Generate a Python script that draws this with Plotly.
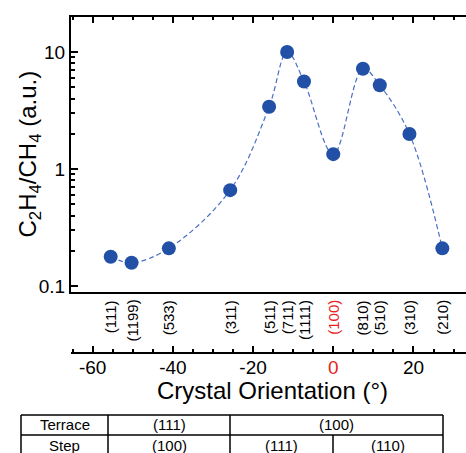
import plotly.graph_objects as go

# Orientation angle from (100) in degrees, and product ratio
angle = [-55.5, -50.3, -41.0, -25.7, -16.0, -11.5, -7.3, 0.0, 7.4, 11.6, 19.0, 27.2]
ratio = [0.178, 0.158, 0.21, 0.66, 3.4, 10.0, 5.6, 1.34, 7.2, 5.2, 1.99, 0.21]
planes = ["(111)", "(1199)", "(533)", "(311)", "(511)", "(711)", "(1111)",
          "(100)", "(810)", "(510)", "(310)", "(210)"]
highlight = "(100)"

xticks = [-60, -40, -20, 0, 20]

# Terrace/step table: rows of (text, left px, right px)
table_rows = [
    [("Terrace", 21, 108), ("(111)", 108, 230), ("(100)", 230, 443)],
    [("Step", 21, 108), ("(100)", 108, 230), ("(111)", 230, 333), ("(110)", 333, 443)],
]

W, H = 466, 453
ML, MT, MB, MR = 71, 17, 100, 0
PW = W - ML - MR
PH = H - MT - MB
XR = [-65.4, 33.1]
FONT = "Arial, Liberation Sans, sans-serif"
RED = "#e8231f"


def fx(p):
    return (p - ML) / PW


def fy(p):
    return (H - MB - p) / PH


fig = go.Figure()

fig.add_trace(go.Scatter(
    x=angle, y=ratio, mode="lines",
    line=dict(shape="spline", smoothing=1.0, dash="5px,3px", color="#4a6fc4", width=1.2),
    hoverinfo="skip", showlegend=False,
))
fig.add_trace(go.Scatter(
    x=angle, y=ratio, mode="markers",
    marker=dict(size=14, color="#2250a6"),
    showlegend=False,
))
# placeholders so the extra x axes are drawn
for ax in ("x2", "x3"):
    fig.add_trace(go.Scatter(x=[angle[0]], y=[ratio[0]], xaxis=ax, yaxis="y",
                             mode="markers", marker=dict(opacity=0),
                             hoverinfo="skip", showlegend=False))

ydom0 = fy(292)

minor_log = [k * 10 ** e for e in (-1, 0, 1) for k in range(2, 10) if k * 10 ** e < 19.9]
minor_lin = [v for v in range(-65, 35, 5)]

axis_common = dict(range=XR, showgrid=False, zeroline=False,
                   showline=True, linecolor="black", linewidth=2)

fig.update_layout(
    width=W, height=H,
    margin=dict(l=ML, r=MR, t=MT, b=MB),
    paper_bgcolor="white", plot_bgcolor="white",
    font=dict(family=FONT, color="black"),
    xaxis=dict(domain=[0, 1], anchor="y", ticks="", showticklabels=False, **axis_common),
    xaxis2=dict(overlaying="x", anchor="y", side="top", showticklabels=False,
                ticks="inside", ticklen=6, tickwidth=1.5, tickcolor="black",
                tickmode="linear", tick0=0, dtick=20,
                minor=dict(tickmode="array", tickvals=minor_lin, ticks="inside",
                           ticklen=3, tickwidth=1.5, tickcolor="black"),
                **axis_common),
    xaxis3=dict(overlaying="x", anchor="free", position=0, side="bottom",
                ticks="inside", ticklen=6, tickwidth=1.5, tickcolor="black",
                tickmode="array", tickvals=xticks, ticklabelstandoff=-3,
                ticktext=[f'<span style="color:{RED}">0</span>' if v == 0 else str(v)
                          for v in xticks],
                tickfont=dict(size=19, family=FONT, color="black"),
                minor=dict(tickmode="array", tickvals=minor_lin, ticks="inside",
                           ticklen=3, tickwidth=1.5, tickcolor="black"),
                **axis_common),
    yaxis=dict(type="log", range=[-1.051, 1.299], domain=[ydom0, 1], anchor="x",
               showline=True, linecolor="black", linewidth=2, showgrid=False,
               zeroline=False, ticks="inside", ticklen=7, tickwidth=1.5,
               tickcolor="black", tickmode="array", tickvals=[0.1, 1, 10],
               ticktext=["0.1", "1", "10"],
               tickfont=dict(size=19, family=FONT, color="black"),
               minor=dict(tickmode="array", tickvals=minor_log, ticks="inside",
                          ticklen=4, tickwidth=1.5, tickcolor="black")),
)

annotations = []
# plane labels, rotated, hanging below the plot box
for a, lab in zip(angle, planes):
    annotations.append(dict(
        x=a, xref="x", y=fy(298), yref="paper", text=lab, textangle=-90,
        showarrow=False, xanchor="center", yanchor="top",
        font=dict(size=15, family=FONT, color=RED if lab == highlight else "black"),
    ))

annotations.append(dict(
    x=fx(272), y=fy(390), xref="paper", yref="paper",
    text="Crystal Orientation (°)", showarrow=False,
    xanchor="center", yanchor="middle", font=dict(size=24, family=FONT, color="black"),
))
annotations.append(dict(
    x=fx(29), y=fy(154.5), xref="paper", yref="paper", textangle=-90,
    text="C<sub>2</sub>H<sub>4</sub>/CH<sub>4</sub> (a.u.)", showarrow=False,
    xanchor="center", yanchor="middle", font=dict(size=24, family=FONT, color="black"),
))

# table
row_top = [415, 435]
row_h = 20
shapes = []
line = dict(color="black", width=1.5)
for i, row in enumerate(table_rows):
    t = row_top[i]
    b = t + row_h
    shapes.append(dict(type="line", xref="paper", yref="paper",
                       x0=fx(21), x1=fx(443), y0=fy(t), y1=fy(t), line=line))
    for text, l, r in row:
        shapes.append(dict(type="line", xref="paper", yref="paper",
                           x0=fx(l), x1=fx(l), y0=fy(t), y1=fy(b), line=line))
        annotations.append(dict(
            x=fx((l + r) / 2), y=fy(t + row_h / 2), xref="paper", yref="paper",
            text=text, showarrow=False, xanchor="center", yanchor="middle",
            font=dict(size=15, family=FONT, color="black"),
        ))
    shapes.append(dict(type="line", xref="paper", yref="paper",
                       x0=fx(443), x1=fx(443), y0=fy(t), y1=fy(b), line=line))
shapes.append(dict(type="line", xref="paper", yref="paper",
                   x0=fx(21), x1=fx(443), y0=fy(455), y1=fy(455), line=line))

fig.update_layout(annotations=annotations, shapes=shapes)

fig.write_html("out.html")
